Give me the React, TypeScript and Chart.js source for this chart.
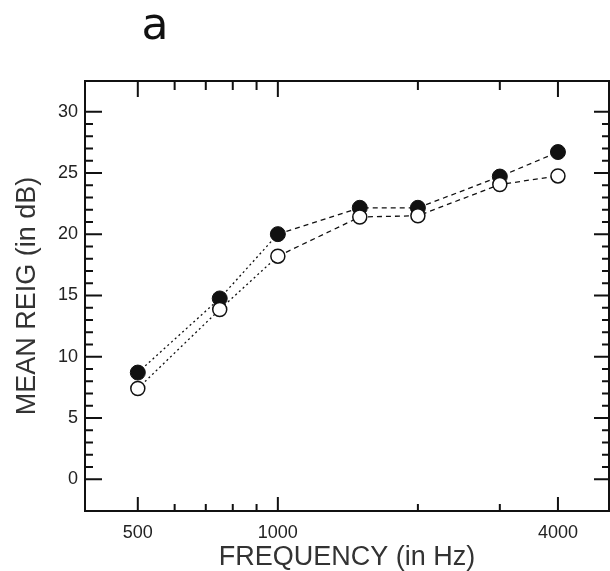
import React, { useEffect, useRef } from "react";
import { Chart, registerables } from "chart.js";

Chart.register(...registerables);

const frequencies = [500, 750, 1000, 1500, 2000, 3000, 4000];
const filledSeries = [8.7, 14.75, 20.0, 22.15, 22.15, 24.7, 26.7];
const openSeries = [7.4, 13.85, 18.2, 21.4, 21.5, 24.05, 24.75];

const xLabelTicks = [500, 1000, 4000];
const xMinorTicks = [600, 700, 800, 900, 2000, 3000];
const yLabelTicks = [0, 5, 10, 15, 20, 25, 30];
const yMinorTicks = [1, 2, 3, 4, 6, 7, 8, 9, 11, 12, 13, 14, 16, 17, 18, 19, 21, 22, 23, 24, 26, 27, 28, 29];

const panelLetter = "a";
const xTitle = "FREQUENCY (in Hz)";
const yTitle = "MEAN REIG (in dB)";

const FONT = "'Liberation Sans', Arial, sans-serif";
const INK = "#111";

const framePlugin = {
  id: "frameTicks",
  afterDraw(chart: any) {
    const { ctx, chartArea } = chart;
    const x = chart.scales.x;
    const y = chart.scales.y;
    const { left, right, top, bottom } = chartArea;
    ctx.save();
    ctx.strokeStyle = INK;
    ctx.lineWidth = 2;
    ctx.beginPath();
    ctx.rect(left, top, right - left, bottom - top);
    ctx.stroke();
    ctx.lineWidth = 2;
    ctx.beginPath();
    const xt = (v: number, lb: number, lt: number) => {
      const px = x.getPixelForValue(v);
      ctx.moveTo(px, bottom);
      ctx.lineTo(px, bottom - lb);
      ctx.moveTo(px, top);
      ctx.lineTo(px, top + lt);
    };
    xLabelTicks.forEach((v) => xt(v, 14, 16));
    xMinorTicks.forEach((v) => xt(v, 7, 9));
    const yt = (v: number, ll: number, lr: number) => {
      const py = y.getPixelForValue(v);
      ctx.moveTo(left, py);
      ctx.lineTo(left + ll, py);
      ctx.moveTo(right, py);
      ctx.lineTo(right - lr, py);
    };
    yLabelTicks.forEach((v) => yt(v, 17, 15));
    yMinorTicks.forEach((v) => yt(v, 8, 7));
    ctx.stroke();

    ctx.fillStyle = INK;
    ctx.font = "44px 'DejaVu Sans', sans-serif";
    ctx.textAlign = "center";
    ctx.textBaseline = "alphabetic";
    ctx.fillText(panelLetter, 155, 39);
    ctx.restore();
  },
};

export default function App() {
  const ref = useRef<HTMLCanvasElement | null>(null);

  useEffect(() => {
    if (!ref.current) return;
    const chart = new Chart(ref.current, {
      type: "line",
      data: {
        datasets: [
          {
            label: "open",
            data: frequencies.map((f, i) => ({ x: f, y: openSeries[i] })),
            borderColor: INK,
            borderWidth: 1.3,
            pointRadius: 7,
            pointBorderWidth: 1.5,
            pointBackgroundColor: "#fff",
            pointBorderColor: INK,
            fill: false,
            tension: 0,
            segment: {
              borderDash: (c: any) => (c.p0DataIndex < 2 ? [2, 3] : [5, 4]),
            },
          },
          {
            label: "filled",
            data: frequencies.map((f, i) => ({ x: f, y: filledSeries[i] })),
            borderColor: INK,
            borderWidth: 1.3,
            pointRadius: 7.5,
            pointBorderWidth: 1,
            pointBackgroundColor: INK,
            pointBorderColor: INK,
            fill: false,
            tension: 0,
            segment: {
              borderDash: (c: any) => (c.p0DataIndex < 2 ? [2, 3] : [5, 4]),
            },
          },
        ],
      },
      options: {
        responsive: false,
        animation: false,
        layout: { autoPadding: false, padding: { top: 81, right: 1, left: 0, bottom: 0 } },
        plugins: {
          legend: { display: false },
          tooltip: { enabled: false },
        },
        scales: {
          x: {
            type: "logarithmic",
            position: "bottom",
            min: 385,
            max: 5150,
            grid: { display: false, drawTicks: false },
            border: { display: false },
            afterBuildTicks: (s: any) => {
              s.ticks = xLabelTicks.map((v) => ({ value: v }));
            },
            afterFit: (s: any) => {
              s.height = 60;
              s.paddingLeft = 0;
              s.paddingRight = 0;
            },
            ticks: {
              autoSkip: false,
              maxRotation: 0,
              padding: 11,
              color: "#222",
              font: { family: FONT, size: 18 },
              callback: (v: any) => String(v),
            },
            title: {
              display: true,
              text: xTitle,
              color: "#333",
              font: { family: FONT, size: 27, lineHeight: 1 },
              padding: { top: 0, bottom: 0 },
            },
          },
          y: {
            type: "linear",
            position: "left",
            min: -2.6,
            max: 32.5,
            grid: { display: false, drawTicks: false },
            border: { display: false },
            afterBuildTicks: (s: any) => {
              s.ticks = yLabelTicks.map((v) => ({ value: v }));
            },
            afterFit: (s: any) => {
              s.width = 85;
              s.paddingTop = 0;
              s.paddingBottom = 0;
            },
            ticks: {
              padding: 7,
              color: "#222",
              font: { family: FONT, size: 18 },
              callback: (v: any) => String(v),
            },
            title: {
              display: true,
              text: yTitle,
              color: "#333",
              font: { family: FONT, size: 27, lineHeight: 1 },
              padding: { top: 14, bottom: 0 },
            },
          },
        },
      },
      plugins: [framePlugin],
    } as any);
    return () => chart.destroy();
  }, []);

  return (
    <div style={{ position: "absolute", left: 0, top: 0, width: 610, height: 571 }}>
      <canvas ref={ref} width={610} height={571} style={{ display: "block" }} />
    </div>
  );
}
